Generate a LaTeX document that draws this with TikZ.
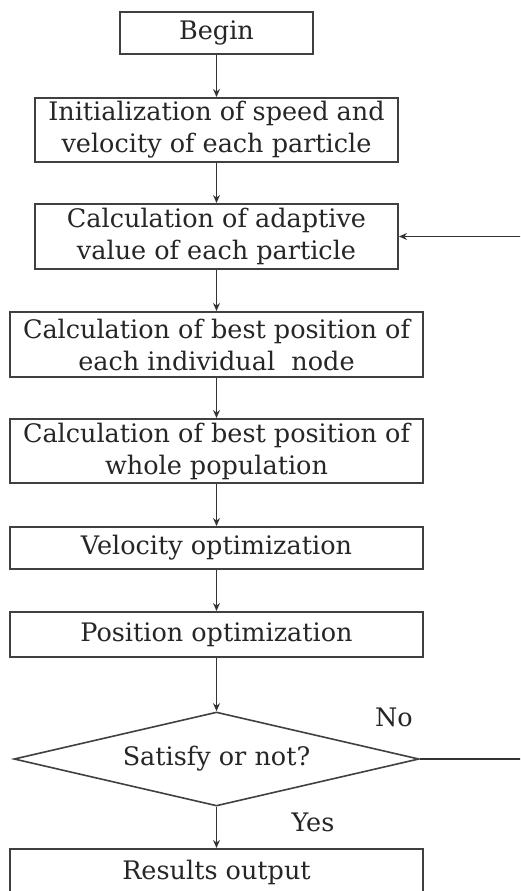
\documentclass[tikz,border=0pt]{standalone}
\usepackage{fontspec}
\setmainfont{DejaVu Serif}
\usetikzlibrary{arrows.meta,shapes.geometric}
\begin{document}
\begin{tikzpicture}[x=1pt,y=-1pt,
  every node/.style={font=\fontsize{25.5}{32}\selectfont, text=black!85},
  box/.style={draw=black!75, line width=2pt, rectangle, align=center, inner sep=0pt},
  dec/.style={draw=black!75, line width=1.6pt, diamond, aspect=4.3, inner sep=0pt},
  conn/.style={draw=black!80, line width=1.8pt, -{Stealth[length=8pt,width=7pt]}},
  lab/.style={inner sep=0pt}
]
\clip (0,0) rectangle (520,891);
\useasboundingbox (0,0) rectangle (520,891);
\node[box, minimum width=193pt, minimum height=42pt] (begin) at (216.5,33) {Begin};
\node[box, minimum width=363pt, minimum height=64pt] (init) at (216.5,130) {Initialization of speed and\\velocity of each particle};
\node[box, minimum width=363pt, minimum height=65pt] (calc) at (216.5,236.5) {Calculation of adaptive\\value of each particle};
\node[box, minimum width=413pt, minimum height=65pt] (best) at (216.5,344.5) {Calculation of best position of\\each individual\ \ node};
\node[box, minimum width=413pt, minimum height=64pt] (whole) at (216.5,451) {Calculation of best position of\\whole population};
\node[box, minimum width=413pt, minimum height=42pt] (vel) at (216.5,548) {Velocity optimization};
\node[box, minimum width=413pt, minimum height=45pt] (pos) at (216.5,634.5) {Position optimization};
\node[dec, minimum width=405pt, minimum height=94pt] (dia) at (216.5,759) {Satisfy or not?};
\node[box, minimum width=413pt, minimum height=46pt] (res) at (216.5,872) {Results output};
\node[lab] (no) at (394,717) {No};
\node[lab] (yes) at (313,822) {Yes};
\coordinate (fb) at (560,759);
\draw[conn] (begin) -- (init);
\draw[conn] (init) -- (calc);
\draw[conn] (calc) -- (best);
\draw[conn] (best) -- (whole);
\draw[conn] (whole) -- (vel);
\draw[conn] (vel) -- (pos);
\draw[conn] (pos) -- (dia);
\draw[conn] (dia) -- (res);
\draw[conn] (dia.east) -- (fb) |- (calc.east);
\end{tikzpicture}
\end{document}
